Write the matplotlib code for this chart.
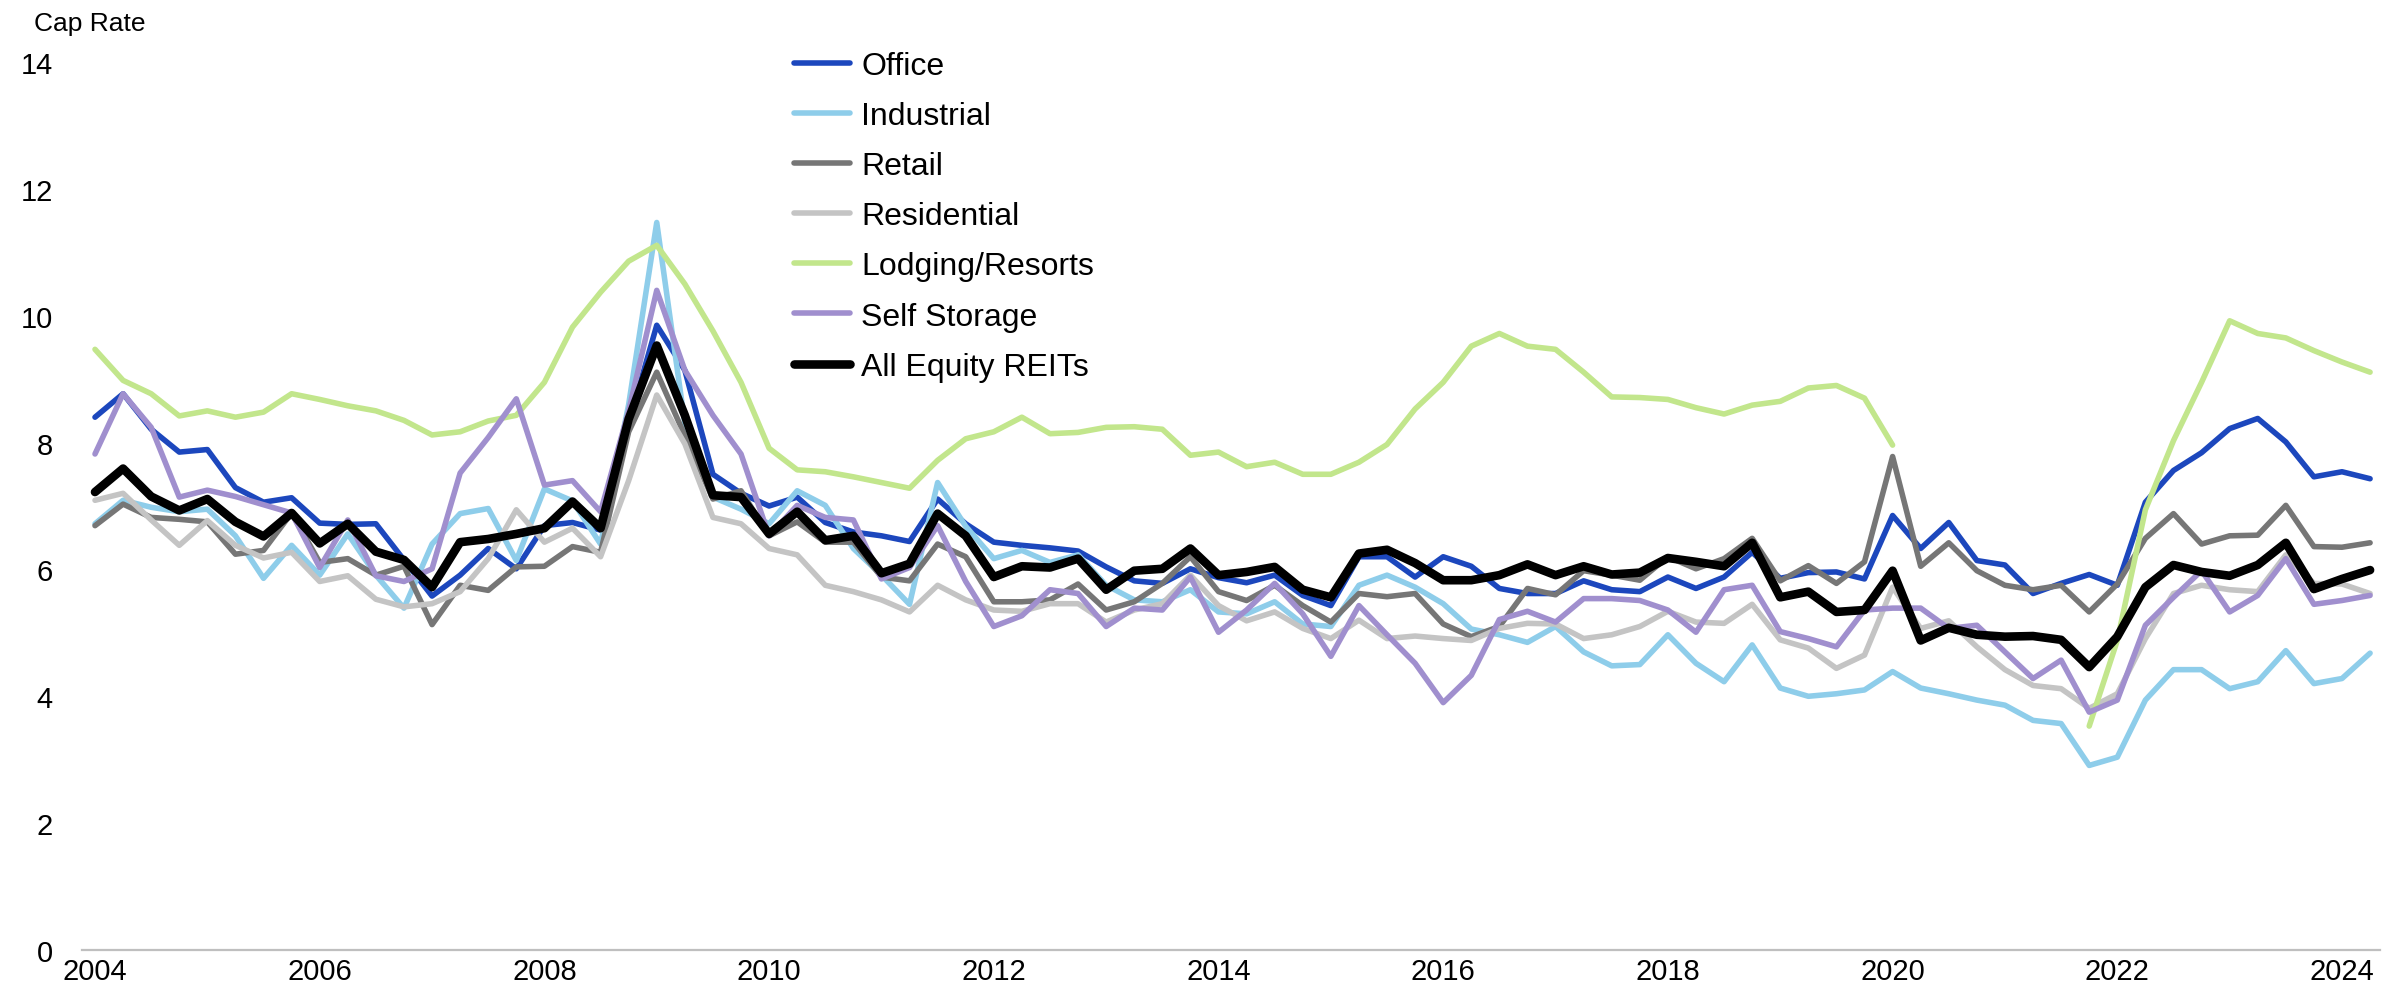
import numpy as np
import matplotlib
matplotlib.use("Agg")
import matplotlib.pyplot as plt

plt.rcParams['font.family'] = ['Liberation Sans', 'DejaVu Sans']

# Quarterly observations, 2004 Q1 .. 2024 Q2
start_year = 2004
n_quarters = 82

office = [8.40, 8.77, 8.21, 7.85, 7.89, 7.29, 7.06, 7.13, 6.73, 6.71,
          6.72, 6.15, 5.58, 5.91, 6.33, 6.01, 6.69, 6.74, 6.62, 8.30, 9.85,
          9.14, 7.50, 7.20, 7.00, 7.14, 6.74, 6.59, 6.53, 6.44, 7.11,
          6.72, 6.43, 6.38, 6.34, 6.29, 6.04, 5.82, 5.78, 6.01, 5.87,
          5.79, 5.91, 5.59, 5.43, 6.20, 6.20, 5.88, 6.20, 6.05, 5.70, 5.62,
          5.62, 5.82, 5.68, 5.65, 5.88, 5.70, 5.88, 6.27, 5.86, 5.95,
          5.96, 5.85, 6.85, 6.33, 6.74, 6.14, 6.07, 5.62, 5.78, 5.92,
          5.75, 7.06, 7.56, 7.84, 8.22, 8.38, 8.01, 7.46, 7.54, 7.43]

industrial = [6.72, 7.09, 6.98, 6.91, 6.95, 6.53, 5.86, 6.38, 5.91, 6.56,
              5.91, 5.39, 6.40, 6.88, 6.96, 6.14, 7.27, 7.08, 6.40, 8.60, 11.47,
              8.30, 7.14, 6.95, 6.72, 7.24, 7.01, 6.33, 5.91, 5.45, 7.37,
              6.68, 6.17, 6.30, 6.11, 6.23, 5.75, 5.52, 5.49, 5.68, 5.33,
              5.30, 5.49, 5.14, 5.10, 5.75, 5.91, 5.72, 5.46, 5.06, 4.97, 4.85,
              5.10, 4.70, 4.48, 4.50, 4.97, 4.52, 4.23, 4.81, 4.13, 4.00,
              4.04, 4.10, 4.39, 4.13, 4.04, 3.94, 3.86, 3.62, 3.57, 2.91,
              3.04, 3.94, 4.42, 4.42, 4.12, 4.23, 4.72, 4.20, 4.28, 4.68]

retail = [6.69, 7.03, 6.82, 6.79, 6.75, 6.24, 6.30, 6.89, 6.11, 6.17,
          5.91, 6.05, 5.13, 5.75, 5.67, 6.04, 6.05, 6.36, 6.27, 8.17, 9.11,
          8.11, 7.11, 7.24, 6.53, 6.75, 6.43, 6.43, 5.88, 5.82, 6.40,
          6.20, 5.49, 5.49, 5.52, 5.77, 5.36, 5.49, 5.78, 6.20, 5.65,
          5.51, 5.75, 5.43, 5.17, 5.62, 5.57, 5.62, 5.14, 4.94, 5.10, 5.70,
          5.60, 5.98, 5.91, 5.83, 6.20, 6.01, 6.17, 6.49, 5.82, 6.06,
          5.78, 6.12, 7.78, 6.05, 6.42, 5.98, 5.75, 5.68, 5.75, 5.33,
          5.77, 6.49, 6.88, 6.40, 6.53, 6.54, 7.01, 6.36, 6.35, 6.42]

residential = [7.09, 7.20, 6.78, 6.38, 6.77, 6.38, 6.18, 6.27, 5.81, 5.90,
               5.53, 5.41, 5.46, 5.65, 6.17, 6.94, 6.43, 6.65, 6.20, 7.40, 8.75,
               7.98, 6.82, 6.72, 6.33, 6.23, 5.75, 5.65, 5.52, 5.33, 5.75,
               5.52, 5.36, 5.34, 5.46, 5.46, 5.17, 5.36, 5.46, 5.91, 5.43,
               5.19, 5.33, 5.07, 4.91, 5.20, 4.91, 4.95, 4.91, 4.88, 5.07, 5.15,
               5.14, 4.91, 4.97, 5.10, 5.34, 5.17, 5.15, 5.45, 4.89, 4.76,
               4.44, 4.65, 5.72, 5.07, 5.19, 4.78, 4.42, 4.17, 4.12, 3.81,
               4.04, 4.91, 5.62, 5.75, 5.68, 5.65, 6.23, 5.78, 5.77, 5.62]

lodging = [9.47, 8.98, 8.77, 8.42, 8.50, 8.40, 8.48, 8.77, 8.68, 8.58,
           8.50, 8.35, 8.12, 8.17, 8.34, 8.43, 8.95, 9.82, 10.37, 10.86, 11.11,
           10.50, 9.76, 8.95, 7.91, 7.57, 7.54, 7.46, 7.37, 7.28, 7.72,
           8.06, 8.17, 8.40, 8.14, 8.16, 8.24, 8.25, 8.21, 7.80, 7.85,
           7.62, 7.69, 7.50, 7.50, 7.69, 7.97, 8.53, 8.95, 9.52, 9.72, 9.52,
           9.47, 9.11, 8.72, 8.71, 8.68, 8.55, 8.45, 8.59, 8.65, 8.86,
           8.90, 8.70, 7.96, np.nan, np.nan, np.nan, np.nan, np.nan, np.nan, 3.53,
           4.88, 6.94, 8.03, 8.95, 9.92, 9.72, 9.65, 9.45, 9.27, 9.11]

self_storage = [7.82, 8.77, 8.24, 7.14, 7.25, 7.15, 7.02, 6.89, 6.03, 6.78,
                5.90, 5.81, 6.01, 7.52, 8.08, 8.69, 7.33, 7.40, 6.91, 8.50, 10.40,
                9.14, 8.43, 7.82, 6.53, 7.01, 6.82, 6.78, 5.85, 6.03, 6.69,
                5.81, 5.10, 5.27, 5.68, 5.62, 5.10, 5.39, 5.36, 5.88, 5.01,
                5.36, 5.78, 5.30, 4.63, 5.43, 4.97, 4.52, 3.90, 4.33, 5.21, 5.34,
                5.17, 5.54, 5.54, 5.51, 5.36, 5.01, 5.68, 5.75, 5.02, 4.91,
                4.78, 5.36, 5.39, 5.39, 5.07, 5.12, 4.70, 4.28, 4.57, 3.75,
                3.94, 5.12, 5.56, 5.98, 5.33, 5.59, 6.17, 5.45, 5.51, 5.59]

all_equity = [7.22, 7.59, 7.15, 6.93, 7.11, 6.75, 6.52, 6.89, 6.41, 6.72,
              6.28, 6.15, 5.72, 6.43, 6.48, 6.56, 6.65, 7.07, 6.65, 8.37, 9.53,
              8.43, 7.17, 7.14, 6.56, 6.91, 6.46, 6.53, 5.94, 6.09, 6.88,
              6.53, 5.88, 6.05, 6.03, 6.17, 5.68, 5.98, 6.01, 6.33, 5.91,
              5.96, 6.04, 5.68, 5.56, 6.25, 6.31, 6.10, 5.83, 5.83, 5.91, 6.08,
              5.91, 6.05, 5.92, 5.95, 6.18, 6.12, 6.05, 6.42, 5.56, 5.65,
              5.33, 5.36, 5.98, 4.88, 5.08, 4.97, 4.94, 4.95, 4.89, 4.46,
              4.94, 5.72, 6.07, 5.96, 5.90, 6.07, 6.42, 5.69, 5.85, 5.99]

series_names = ["Office", "Industrial", "Retail", "Residential",
                "Lodging/Resorts", "Self Storage", "All Equity REITs"]
series_values = [office, industrial, retail, residential, lodging,
                 self_storage, all_equity]
series_colors = ["#1C47BD", "#8ECDEA", "#767676", "#C4C4C4",
                 "#C2E68C", "#A08FCE", "#000000"]
series_widths = [4.0, 4.0, 4.0, 4.0, 4.0, 4.0, 6.2]

year_ticks = list(range(2004, 2025, 2))
y_ticks = list(range(0, 15, 2))

x = start_year + 0.25 * np.arange(n_quarters)

fig = plt.figure(figsize=(24.05, 10.04), dpi=100)
ax = fig.add_axes([82 / 2405, 1 - 951 / 1004, (2380 - 82) / 2405, (951 - 63) / 1004])

for name, vals, col, lw in zip(series_names, series_values, series_colors, series_widths):
    ax.plot(x, vals, color=col, lw=lw, label=name,
            solid_joinstyle='round', solid_capstyle='round', clip_on=False)

px_per_year = 2247 / 20
ax.set_xlim(2004 - 13 / px_per_year, 2004 + (2380 - 95) / px_per_year)
ax.set_ylim(0, 14)
ax.set_xticks(year_ticks)
ax.set_xticklabels([str(y) for y in year_ticks])
ax.set_yticks(y_ticks)
ax.set_yticklabels([str(v) for v in y_ticks])
ax.tick_params(axis='both', length=0, labelsize=21)
ax.tick_params(axis='y', pad=21)
ax.tick_params(axis='x', pad=5)

for s in ['top', 'right', 'left']:
    ax.spines[s].set_visible(False)
ax.spines['bottom'].set_color('#BFBFBF')
ax.spines['bottom'].set_linewidth(1.6)

fig.text(34 / 2405, 1 - 24 / 1004, "Cap Rate", fontsize=19, ha='left', va='center')

leg = ax.legend(loc='upper left', bbox_to_anchor=(794 / 2405, 1 - 52 / 1004),
                bbox_transform=fig.transFigure, frameon=False, fontsize=23,
                handlelength=1.75, handletextpad=0.35, labelspacing=0.63,
                borderaxespad=0, borderpad=0)

fig.savefig("out.png", dpi=100, facecolor='white')
